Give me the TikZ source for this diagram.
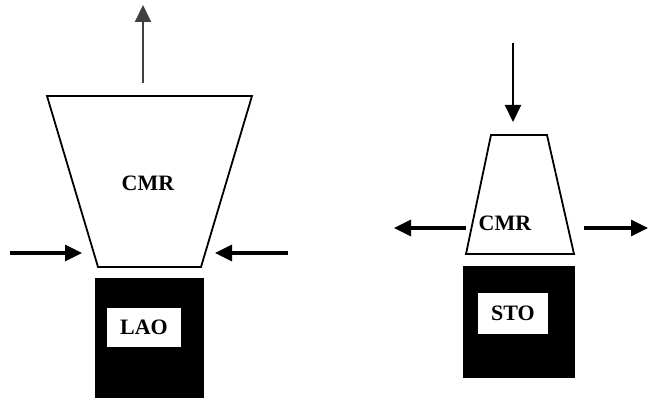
\documentclass[tikz,border=0pt]{standalone}
\usepackage{fontspec}
\setmainfont{Liberation Serif}
\usetikzlibrary{arrows.meta}
\tikzset{cone/.style={draw=black,line width=1.8pt,fill=white},
core/.style={fill=black,inner sep=0pt},
tag/.style={fill=white,inner sep=0pt,font=\bfseries\fontsize{22}{22}\selectfont},
cmrtext/.style={inner sep=0pt,font=\bfseries\fontsize{22}{22}\selectfont},
flow/.style={-{Triangle[length=17pt,width=16pt]},line width=3.2pt},
thinflow/.style={-{Triangle[length=17pt,width=16pt]},line width=2pt}}
\begin{document}
\begin{tikzpicture}[x=1pt,y=-1pt]
\useasboundingbox (0,0) rectangle (648,401);
% left: LAO
\coordinate (ltl) at (47,96);\coordinate (ltr) at (252,96);
\coordinate (lbr) at (201,267);\coordinate (lbl) at (98,267);
\draw[cone] (ltl)--(ltr)--(lbr)--(lbl)--cycle;
\node[cmrtext](lcmr) at (148,183){CMR};
\node[core,minimum width=109pt,minimum height=120pt](lcore) at (149.5,338){};
\node[tag,minimum width=74pt,minimum height=39pt](lao) at (144,327.5){LAO};
\coordinate (lupfrom) at (143,83);\coordinate (lupto) at (143,5);
\draw[thinflow,black!75] (lupfrom)--(lupto);
\coordinate (linfrom) at (10,253);\coordinate (linto) at (82,253);
\coordinate (rinfrom) at (288,253);\coordinate (rinto) at (215,253);
\draw[flow] (linfrom)--(linto);\draw[flow] (rinfrom)--(rinto);
% right: STO
\coordinate (rtl) at (491,135);\coordinate (rtr) at (547,135);
\coordinate (rbr) at (574,254);\coordinate (rbl) at (466,254);
\draw[cone] (rtl)--(rtr)--(rbr)--(rbl)--cycle;
\node[cmrtext](rcmr) at (505,223){CMR};
\node[core,minimum width=112pt,minimum height=112pt](rcore) at (519,322){};
\node[tag,minimum width=70pt,minimum height=41pt](sto) at (513,313.5){STO};
\coordinate (rdownfrom) at (513,43);\coordinate (rdownto) at (513,122);
\draw[thinflow] (rdownfrom)--(rdownto);
\coordinate (loutfrom) at (466,228);\coordinate (loutto) at (394,228);
\coordinate (routfrom) at (584,228);\coordinate (routto) at (648,228);
\draw[flow] (loutfrom)--(loutto);\draw[flow] (routfrom)--(routto);
\end{tikzpicture}
\end{document}
